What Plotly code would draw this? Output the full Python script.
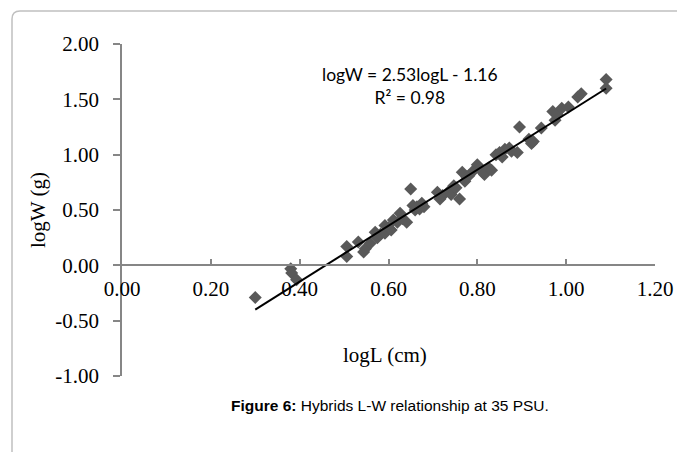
import plotly.graph_objects as go

# ---- data ----
log_l = [0.300, 0.380, 0.382, 0.393,
         0.506, 0.506, 0.532, 0.544, 0.548, 0.559, 0.570, 0.575, 0.582, 0.592, 0.592,
         0.600, 0.606, 0.611, 0.620, 0.626, 0.632, 0.641, 0.650, 0.655, 0.660, 0.664,
         0.670, 0.675, 0.680, 0.710, 0.716, 0.722, 0.736, 0.741, 0.747, 0.752, 0.760,
         0.766, 0.772, 0.776, 0.781, 0.790, 0.800, 0.805, 0.812, 0.816, 0.826, 0.832,
         0.842, 0.850, 0.856, 0.862, 0.872, 0.877, 0.890, 0.895, 0.916, 0.922, 0.926,
         0.944, 0.970, 0.975, 0.980, 0.990, 1.005, 1.026, 1.034, 1.090, 1.090]
log_w = [-0.29, -0.03, -0.07, -0.13,
         0.17, 0.08, 0.21, 0.12, 0.15, 0.20, 0.30, 0.25, 0.28, 0.36, 0.29,
         0.34, 0.32, 0.41, 0.39, 0.47, 0.42, 0.39, 0.69, 0.54, 0.50, 0.53,
         0.51, 0.56, 0.53, 0.66, 0.60, 0.63, 0.67, 0.64, 0.72, 0.70, 0.60,
         0.84, 0.76, 0.80, 0.81, 0.85, 0.91, 0.88, 0.84, 0.82, 0.88, 0.86,
         1.00, 1.02, 0.98, 1.05, 1.06, 1.03, 1.02, 1.25, 1.14, 1.10, 1.12,
         1.24, 1.39, 1.31, 1.36, 1.42, 1.43, 1.52, 1.55, 1.68, 1.60]
slope = 2.53
intercept = -1.16
x_ticks = [0.0, 0.2, 0.4, 0.6, 0.8, 1.0, 1.2]
x_tick_labels = ["0.00", "0.20", "0.40", "0.60", "0.80", "1.00", "1.20"]
y_ticks = [-1.0, -0.5, 0.0, 0.5, 1.0, 1.5, 2.0]
y_tick_labels = ["-1.00", "-0.50", "0.00", "0.50", "1.00", "1.50", "2.00"]
equation_text = "logW = 2.53logL - 1.16<br>R² = 0.98"
x_title = "logL (cm)"
y_title = "logW (g)"
caption = "<b>Figure 6:</b> Hybrids L-W relationship at 35 PSU."

fit_x = [min(log_l), max(log_l)]
fit_y = [slope * v + intercept for v in fit_x]

AXIS_COLOR = "#868686"
SERIF = "Liberation Serif, Times New Roman, serif"
TICK_FONT = dict(family=SERIF, size=21, color="#000000")

fig = go.Figure()
fig.add_trace(go.Scatter(
    x=log_l, y=log_w, mode="markers",
    marker=dict(symbol="diamond", size=10, color="#595959", line=dict(width=0)),
    showlegend=False, hoverinfo="x+y"))
fig.add_trace(go.Scatter(
    x=fit_x, y=fit_y, mode="lines",
    line=dict(color="#000000", width=2),
    showlegend=False, hoverinfo="skip"))

# the page body adds an 8px offset; margins compensate so the plot area
# sits at x 122..655, y 44..376 in the window
fig.update_layout(
    width=685, height=452,
    margin=dict(l=114, r=38, t=36, b=84, autoexpand=False),
    paper_bgcolor="white", plot_bgcolor="white",
    xaxis=dict(range=[0, 1.2], tickvals=x_ticks, ticktext=x_tick_labels,
               showgrid=False, zeroline=False, automargin=False,
               showline=True, linecolor=AXIS_COLOR, linewidth=1.5,
               ticks="inside", ticklen=6, tickcolor=AXIS_COLOR, tickwidth=1.5,
               anchor="free", position=1/3,
               tickfont=TICK_FONT, ticklabelstandoff=5),
    yaxis=dict(range=[-1, 2], tickvals=y_ticks, ticktext=y_tick_labels,
               showgrid=False, zeroline=False, automargin=False,
               showline=True, linecolor=AXIS_COLOR, linewidth=1.5,
               ticks="outside", ticklen=7, tickcolor=AXIS_COLOR, tickwidth=1.5,
               tickfont=TICK_FONT, ticklabelstandoff=10),
)

# frame around the figure (rounded top-left corner)
xl, xr = (12 - 122) / 533, (684 - 122) / 533
yt, yb = (376 - 11) / 332, (376 - 470) / 332
rx, ry = 8 / 533, 8 / 332
fig.add_shape(type="path", xref="paper", yref="paper",
              path=f"M {xl},{yb} L {xl},{yt-ry} Q {xl},{yt} {xl+rx},{yt} L {xr},{yt} L {xr},{yt-ry*0.4}",
              line=dict(color="#c0c0c0", width=1.5))

fig.add_annotation(text=equation_text, xref="paper", yref="paper",
                   x=(410 - 122) / 533, y=(376 - 86) / 332,
                   xanchor="center", yanchor="middle", align="center", showarrow=False,
                   font=dict(family="Lato, Carlito, Calibri, sans-serif", size=17.5, color="#000000"))
fig.add_annotation(text=x_title, xref="paper", yref="paper",
                   x=(385 - 122) / 533, y=(376 - 355) / 332,
                   xanchor="center", yanchor="middle", showarrow=False,
                   font=dict(family=SERIF, size=21, color="#000000"))
fig.add_annotation(text=y_title, xref="paper", yref="paper", textangle=-90,
                   x=(38 - 122) / 533, y=(376 - 210) / 332,
                   xanchor="center", yanchor="middle", showarrow=False,
                   font=dict(family=SERIF, size=21, color="#000000"))
fig.add_annotation(text=caption, xref="paper", yref="paper",
                   x=(390 - 122) / 533, y=(376 - 405) / 332,
                   xanchor="center", yanchor="middle", showarrow=False,
                   font=dict(family="Liberation Sans, Arial, sans-serif", size=15.5, color="#000000"))

fig.write_html("out.html")
